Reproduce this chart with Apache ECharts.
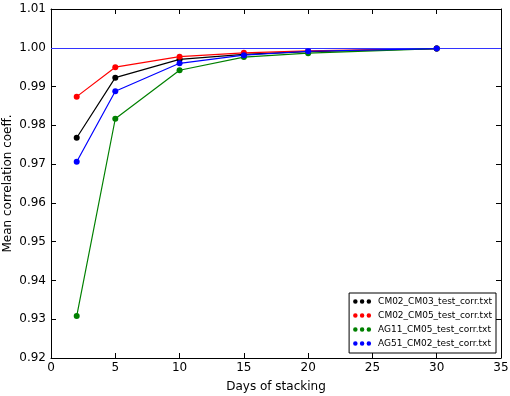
<!DOCTYPE html>
<html>
<head>
<meta charset="utf-8">
<script src="https://cdn.jsdelivr.net/npm/echarts@6/dist/echarts.min.js"></script>
<style>
  html, body { margin: 0; padding: 0; background: #fff; }
  #chart { width: 510px; height: 396px; }
</style>
</head>
<body>
<div id="chart"></div>
<script>
// days of stacking
const days = [2, 5, 10, 15, 20, 30]
const seriesNames = ['CM02_CM03_test_corr.txt', 'CM02_CM05_test_corr.txt', 'AG11_CM05_test_corr.txt', 'AG51_CM02_test_corr.txt']
const cm02cm03 = [0.9768, 0.9923, 0.9970, 0.9983, 0.9990, 0.9998]
const cm02cm05 = [0.9874, 0.9950, 0.9977, 0.9987, 0.9992, 0.9998]
const ag11cm05 = [0.9308, 0.9817, 0.9942, 0.9976, 0.9986, 0.9998]
const ag51cm02 = [0.9706, 0.9888, 0.9960, 0.9981, 0.9991, 0.9998]
const colors = ['#000000', '#ff0000', '#008000', '#0000ff']
const yTicks = [0.92, 0.93, 0.94, 0.95, 0.96, 0.97, 0.98, 0.99, 1.00, 1.01]

const font = 'DejaVu Sans'
const dots = 'path://M1,3a2,2 0 1,0 4,0a2,2 0 1,0 -4,0M7,3a2,2 0 1,0 4,0a2,2 0 1,0 -4,0M13,3a2,2 0 1,0 4,0a2,2 0 1,0 -4,0'

function pairs (vals) {
  return days.map((d, i) => [d, vals[i]])
}

const allVals = [cm02cm03, cm02cm05, ag11cm05, ag51cm02]

const chart = echarts.init(document.getElementById('chart'), null, { renderer: 'canvas' })

const tickStyle = { show: true, inside: true, length: 5, lineStyle: { color: '#000', width: 1 } }

const option = {
  animation: false,
  textStyle: { fontFamily: font },
  grid: { left: 51, right: 9, top: 9, bottom: 38, containLabel: false, outerBoundsMode: 'none' },
  legend: {
    orient: 'vertical',
    right: 14,
    bottom: 43,
    padding: [3, 4, 4, 4],
    itemGap: 3,
    itemWidth: 18,
    itemHeight: 6,
    borderColor: '#000',
    borderWidth: 1,
    backgroundColor: '#fff',
    textStyle: { fontSize: 9, lineHeight: 11, fontFamily: font, color: '#000', padding: [0, 0, 0, 2] },
    data: seriesNames.map((n, i) => ({ name: n, icon: dots, itemStyle: { color: colors[i] } }))
  },
  xAxis: [
    {
      type: 'value',
      min: 0,
      max: 35,
      interval: 5,
      name: 'Days of stacking',
      nameLocation: 'middle',
      nameGap: 23,
      nameMoveOverlap: false,
      nameTextStyle: { fontSize: 12, color: '#000', fontFamily: font },
      axisLine: { onZero: false, lineStyle: { color: '#000', width: 1 } },
      axisTick: tickStyle,
      axisLabel: { fontSize: 12, color: '#000', margin: 4 },
      splitLine: { show: false }
    },
    {
      type: 'value',
      position: 'top',
      min: 0,
      max: 35,
      interval: 5,
      axisLine: { show: true, onZero: false, lineStyle: { color: '#000', width: 1 } },
      axisTick: tickStyle,
      axisLabel: { show: false },
      splitLine: { show: false }
    }
  ],
  yAxis: [
    {
      type: 'value',
      min: 0.92,
      max: 1.01,
      interval: 0.01,
      name: 'Mean correlation coeff.',
      nameLocation: 'middle',
      nameGap: 37,
      nameMoveOverlap: false,
      nameTextStyle: { fontSize: 12, color: '#000', fontFamily: font },
      axisLine: { show: true, onZero: false, lineStyle: { color: '#000', width: 1 } },
      axisTick: tickStyle,
      axisLabel: {
        fontSize: 12,
        color: '#000',
        margin: 5,
        formatter: v => {
          const t = yTicks.find(y => Math.abs(y - v) < 1e-6)
          return t !== undefined ? t.toFixed(2) : ''
        }
      },
      splitLine: { show: false }
    },
    {
      type: 'value',
      position: 'right',
      min: 0.92,
      max: 1.01,
      interval: 0.01,
      axisLine: { show: true, onZero: false, lineStyle: { color: '#000', width: 1 } },
      axisTick: tickStyle,
      axisLabel: { show: false },
      splitLine: { show: false }
    }
  ],
  series: seriesNames.map((n, i) => ({
    name: n,
    type: 'line',
    data: pairs(allVals[i]),
    symbol: 'circle',
    symbolSize: 6,
    color: colors[i],
    lineStyle: { width: 1.2, color: colors[i] },
    itemStyle: { color: colors[i] },
    z: 3 + i,
    markLine: i === 0 ? {
      silent: true,
      symbol: 'none',
      label: { show: false },
      lineStyle: { color: '#3333ff', width: 1.2, type: 'solid' },
      data: [{ yAxis: 1.0 }]
    } : undefined
  }))
}

chart.setOption(option)
window.addEventListener('resize', () => chart.resize())
</script>
</body>
</html>
